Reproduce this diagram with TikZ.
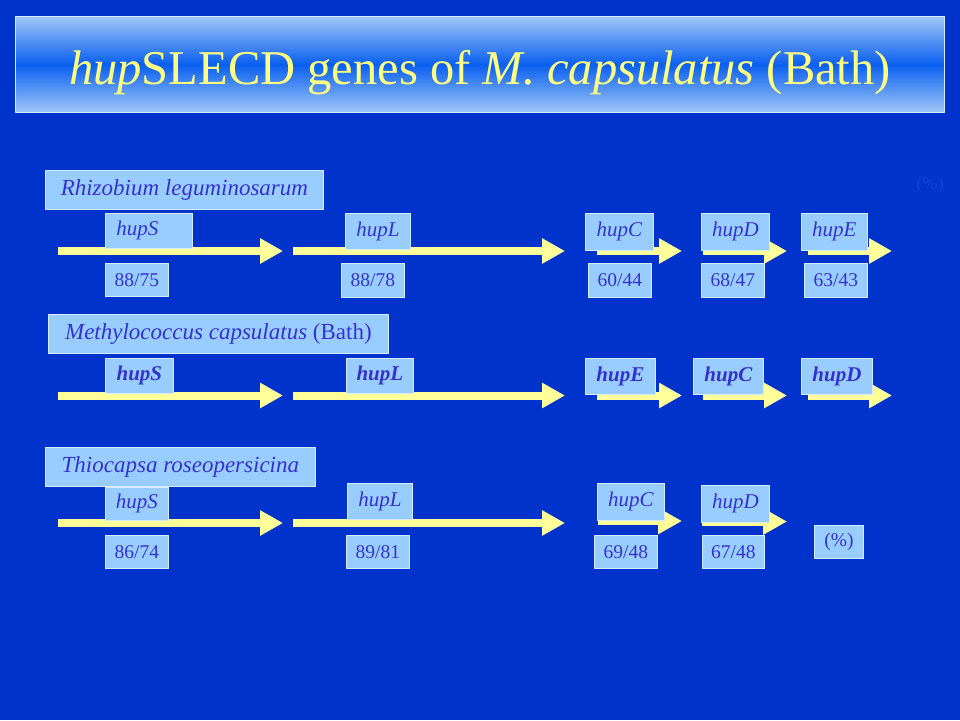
\documentclass[tikz,border=0pt]{standalone}
\usepackage{fontspec}
\setmainfont{Liberation Serif}
\usetikzlibrary{arrows.meta}
\definecolor{bg}{RGB}{0,51,204}
\definecolor{bfill}{RGB}{153,204,255}
\definecolor{bline}{RGB}{215,235,255}
\definecolor{tcol}{RGB}{51,51,204}
\definecolor{yel}{RGB}{255,255,153}
\definecolor{ttl}{RGB}{255,255,128}
\definecolor{tlight}{RGB}{160,200,248}
\definecolor{tmid}{RGB}{10,95,240}
\definecolor{faint}{RGB}{22,64,216}
\begin{document}
\begin{tikzpicture}[x=1pt,y=-1pt,
 gbox/.style={draw=bline, fill=bfill, line width=0.8pt, inner sep=0pt, anchor=north west, text=tcol, font=\fontsize{21}{25}\selectfont\itshape},
 nbox/.style={gbox, font=\fontsize{19.5}{23}\selectfont},
 bbox/.style={gbox, font=\fontsize{21}{25}\selectfont\bfseries\itshape},
 lbox/.style={gbox, font=\fontsize{23}{27}\selectfont\itshape},
 genearrow/.style={draw=yel, line width=8pt, -{Triangle[width=24pt,length=23pt]}},
 smallarrow/.style={draw=yel, line width=8pt, -{Triangle[width=25pt,length=24pt]}},
]
\fill[bg] (0,0) rectangle (960,720);
\useasboundingbox (0,0) rectangle (960,720);

% title
\node[draw=bline, line width=0.8pt, top color=tlight, bottom color=tlight, middle color=tmid,
      minimum width=929pt, minimum height=96pt, inner sep=0pt, anchor=north west] (titlebox) at (15,16) {};
\node[anchor=base, text=ttl, font=\fontsize{48.5}{54}\selectfont] (title) at (480,84)
  {\textit{hup}SLECD genes of \textit{M. capsulatus} (Bath)};

% faint label
\node[text=faint, font=\fontsize{18}{22}\selectfont] (faintpct) at (930,185) {(\%)};

% ---------- arrows row 1
\coordinate (r1a1s) at (58,251);  \coordinate (r1a1e) at (283,251);
\coordinate (r1a2s) at (293,251); \coordinate (r1a2e) at (565,251);
\coordinate (r1a3s) at (597,251); \coordinate (r1a3e) at (682,251);
\coordinate (r1a4s) at (703,251); \coordinate (r1a4e) at (787,251);
\coordinate (r1a5s) at (808,251); \coordinate (r1a5e) at (892,251);
\draw[genearrow] (r1a1s) -- (r1a1e);
\draw[genearrow] (r1a2s) -- (r1a2e);
\draw[genearrow] (r1a3s) -- (r1a3e);
\draw[genearrow] (r1a4s) -- (r1a4e);
\draw[genearrow] (r1a5s) -- (r1a5e);

% ---------- arrows row 2
\coordinate (r2a1s) at (58,395.5);  \coordinate (r2a1e) at (283,395.5);
\coordinate (r2a2s) at (293,395.5); \coordinate (r2a2e) at (565,395.5);
\coordinate (r2a3s) at (597,395.5); \coordinate (r2a3e) at (682,395.5);
\coordinate (r2a4s) at (703,395.5); \coordinate (r2a4e) at (787,395.5);
\coordinate (r2a5s) at (808,395.5); \coordinate (r2a5e) at (892,395.5);
\draw[genearrow] (r2a1s) -- (r2a1e);
\draw[genearrow] (r2a2s) -- (r2a2e);
\draw[genearrow] (r2a3s) -- (r2a3e);
\draw[genearrow] (r2a4s) -- (r2a4e);
\draw[genearrow] (r2a5s) -- (r2a5e);

% ---------- arrows row 3
\coordinate (r3a1s) at (58,523);  \coordinate (r3a1e) at (283,523);
\coordinate (r3a2s) at (293,523); \coordinate (r3a2e) at (565,523);
\coordinate (r3a3s) at (598,521); \coordinate (r3a3e) at (682,521);
\coordinate (r3a4s) at (702,521.5); \coordinate (r3a4e) at (787,521.5);
\draw[genearrow] (r3a1s) -- (r3a1e);
\draw[genearrow] (r3a2s) -- (r3a2e);
\draw[smallarrow] (r3a3s) -- (r3a3e);
\draw[smallarrow] (r3a4s) -- (r3a4e);

% ---------- row 1 boxes
\node[lbox, minimum width=278pt, minimum height=39pt] (lab1) at (45,170) {Rhizobium leguminosarum};
\node[gbox, minimum height=35pt, text width=65pt, inner xsep=11pt, align=left] (r1S) at (105,213) {hupS};
\node[gbox, minimum width=65pt, minimum height=36pt] (r1L) at (345,213) {hupL};
\node[gbox, minimum width=68pt, minimum height=37pt] (r1C) at (585,213) {hupC};
\node[gbox, minimum width=68pt, minimum height=37pt] (r1D) at (701,213) {hupD};
\node[gbox, minimum width=66pt, minimum height=37pt] (r1E) at (801,213) {hupE};
\node[nbox, minimum width=63pt, minimum height=33pt] (n1S) at (105,263) {88/75};
\node[nbox, minimum width=63pt, minimum height=34pt] (n1L) at (341,263) {88/78};
\node[nbox, minimum width=63pt, minimum height=34pt] (n1C) at (588,263) {60/44};
\node[nbox, minimum width=63pt, minimum height=34pt] (n1D) at (701,263) {68/47};
\node[nbox, minimum width=63pt, minimum height=34pt] (n1E) at (804,263) {63/43};

% ---------- row 2 boxes
\node[lbox, minimum width=340pt, minimum height=39pt] (lab2) at (48,314) {Methylococcus capsulatus \upshape(Bath)};
\node[bbox, minimum width=68pt, minimum height=35pt] (r2S) at (105,358) {hupS};
\node[bbox, minimum width=67pt, minimum height=35pt] (r2L) at (346,358) {hupL};
\node[bbox, minimum width=70pt, minimum height=36pt] (r2E) at (585,358) {hupE};
\node[bbox, minimum width=70pt, minimum height=36pt] (r2C) at (693,358) {hupC};
\node[bbox, minimum width=71pt, minimum height=36pt] (r2D) at (801,358) {hupD};

% ---------- row 3 boxes
\node[lbox, minimum width=270pt, minimum height=39pt] (lab3) at (45,447) {Thiocapsa roseopersicina};
\node[gbox, minimum width=63pt, minimum height=33pt] (r3S) at (105,487) {hupS};
\node[gbox, minimum width=65pt, minimum height=36pt] (r3L) at (347,483) {hupL};
\node[gbox, minimum width=67pt, minimum height=37pt] (r3C) at (597,483) {hupC};
\node[gbox, minimum width=68pt, minimum height=37pt] (r3D) at (701,485) {hupD};
\node[nbox, minimum width=63pt, minimum height=33pt] (n3S) at (105,535) {86/74};
\node[nbox, minimum width=63pt, minimum height=33pt] (n3L) at (346,535) {89/81};
\node[nbox, minimum width=63pt, minimum height=33pt] (n3C) at (594,535) {69/48};
\node[nbox, minimum width=62pt, minimum height=33pt] (n3D) at (702,535) {67/48};
\node[nbox, minimum width=49pt, minimum height=33pt] (pct) at (814,525) {(\%)};
\end{tikzpicture}
\end{document}
